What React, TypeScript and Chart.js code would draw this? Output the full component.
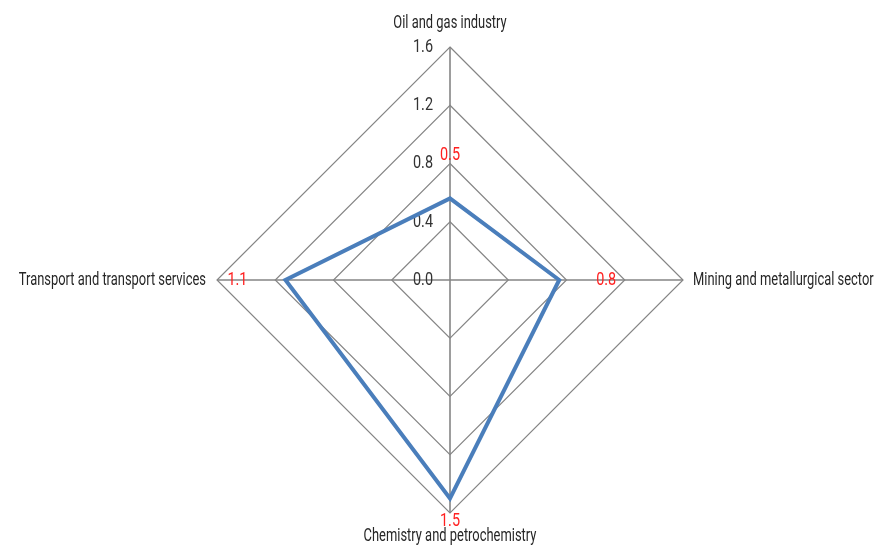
import React, { useEffect, useRef } from "react";
import { Chart, registerables } from "chart.js";

Chart.register(...registerables);

const categories = [
  "Oil and gas industry",
  "Mining and metallurgical sector",
  "Chemistry and petrochemistry",
  "Transport and transport services",
];
const seriesValues = [0.56, 0.75, 1.5, 1.13];
const dataLabels = ["0.5", "0.8", "1.5", "1.1"];
const tickValues = [0, 0.4, 0.8, 1.2, 1.6];
const tickLabels = ["0.0", "0.4", "0.8", "1.2", "1.6"];

const FONT_FAMILY = "Roboto, 'DejaVu Sans Condensed', sans-serif";

function drawScaledText(
  ctx: CanvasRenderingContext2D,
  text: string,
  x: number,
  y: number,
  align: CanvasTextAlign,
  size: number,
  color: string,
  sx: number
) {
  ctx.save();
  ctx.translate(x, y);
  ctx.scale(sx, 1);
  ctx.font = `${size}px ${FONT_FAMILY}`;
  ctx.fillStyle = color;
  ctx.textAlign = align;
  ctx.textBaseline = "middle";
  ctx.fillText(text, 0, 0);
  ctx.restore();
}

const textPlugin = {
  id: "customText",
  beforeDatasetsDraw(chart: any) {
    const ctx = chart.ctx as CanvasRenderingContext2D;
    const scale = chart.scales.r;
    const cx = scale.xCenter;
    const cy = scale.yCenter;
    tickValues.forEach((v, i) => {
      const d = scale.getDistanceFromCenterForValue(v);
      drawScaledText(ctx, tickLabels[i], cx - 17, cy - d, "right", 19, "#333333", 0.76);
    });
    const outer = scale.getDistanceFromCenterForValue(1.6);
    const opts = [
      { dx: 0, dy: -24, align: "center" },
      { dx: 10, dy: 0, align: "left" },
      { dx: 0, dy: 23, align: "center" },
      { dx: -11, dy: 0, align: "right" },
    ];
    categories.forEach((c, i) => {
      const p = scale.getPointPosition(i, outer);
      const o = opts[i];
      drawScaledText(ctx, c, p.x + o.dx, p.y + o.dy, o.align as CanvasTextAlign, 19, "#262626", 0.68);
    });
  },
  afterDatasetsDraw(chart: any) {
    const ctx = chart.ctx as CanvasRenderingContext2D;
    const scale = chart.scales.r;
    const offsets = [43, 47, 23, 48];
    seriesValues.forEach((v, i) => {
      const d = scale.getDistanceFromCenterForValue(v) + offsets[i];
      const p = scale.getPointPosition(i, d);
      drawScaledText(ctx, dataLabels[i], p.x, p.y, "center", 19, "#ff2020", 0.76);
    });
  },
};

export default function App() {
  const ref = useRef<HTMLCanvasElement | null>(null);
  useEffect(() => {
    if (!ref.current) return;
    const chart = new Chart(ref.current, {
      type: "radar",
      data: {
        labels: categories,
        datasets: [
          {
            data: seriesValues,
            borderColor: "#4a7ebb",
            borderWidth: 4,
            backgroundColor: "transparent",
            fill: false,
            pointRadius: 0,
            pointHoverRadius: 0,
            tension: 0,
          },
        ],
      },
      options: {
        responsive: false,
        animation: false,
        layout: { padding: { left: 217, right: 194, top: 47, bottom: 32 } },
        plugins: { legend: { display: false }, tooltip: { enabled: false } },
        scales: {
          r: {
            min: 0,
            max: 1.6,
            ticks: { display: false, stepSize: 0.4 },
            pointLabels: { display: false },
            grid: { color: "#858585", lineWidth: 1.2 },
            angleLines: { color: "#858585", lineWidth: 1.6 },
          },
        },
      },
      plugins: [textPlugin],
    });
    return () => chart.destroy();
  }, []);
  return (
    <div style={{ position: "fixed", left: 0, top: 0, width: 877, height: 545, background: "#fff" }}>
      <canvas ref={ref} width={877} height={545} />
    </div>
  );
}
